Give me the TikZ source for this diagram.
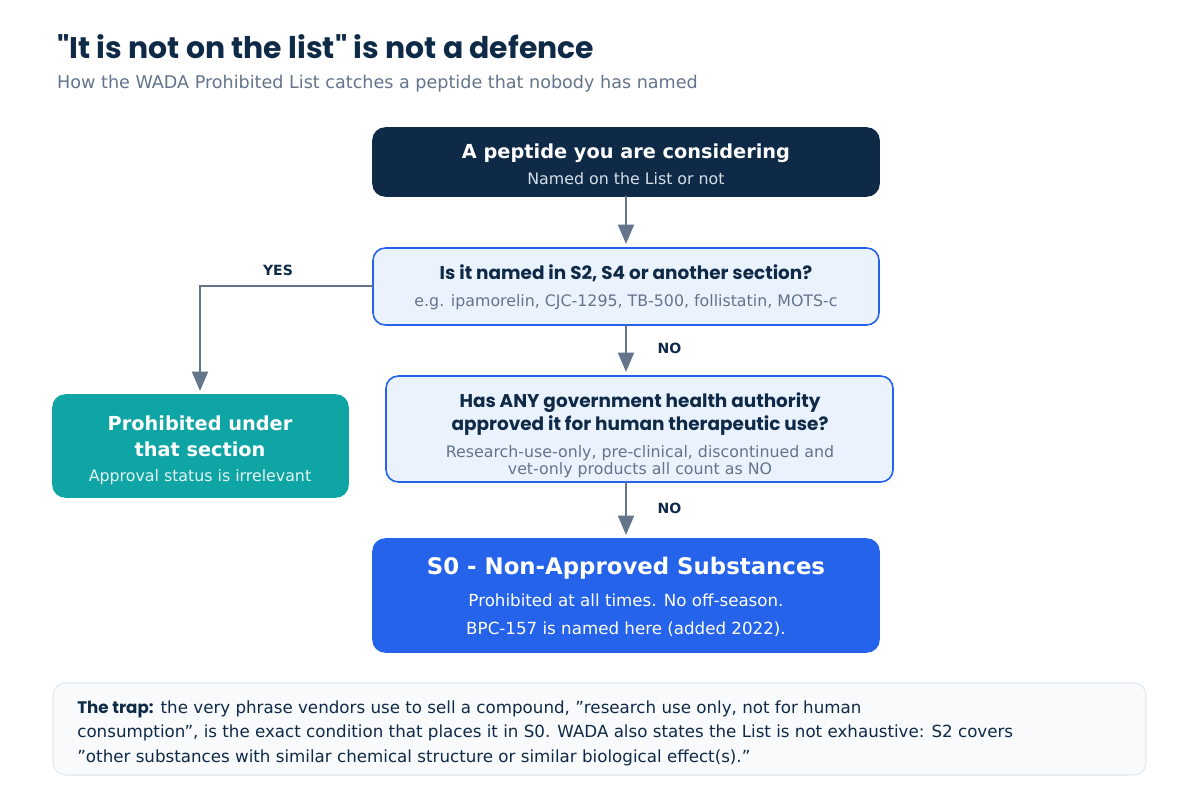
\documentclass[tikz,border=0pt]{standalone}
\usepackage{fontspec}
\setmainfont{DejaVu Sans}
\newfontfamily\popfont{Poppins}
\usetikzlibrary{arrows.meta}
\definecolor{navy}{HTML}{0F2A47}
\definecolor{slate}{HTML}{64748B}
\definecolor{bluefill}{HTML}{EAF2FD}
\definecolor{blueline}{HTML}{2563EB}
\definecolor{teal}{HTML}{10A5A5}
\definecolor{notefill}{HTML}{F8FAFC}
\definecolor{noteline}{HTML}{E2E8F0}
\definecolor{lightgray}{HTML}{D6DEE8}
\tikzset{
  box/.style={draw, rounded corners=7pt, line width=0.9pt},
  flow/.style={draw=slate, line width=1.3pt, -{Triangle[length=11pt,width=9pt]}},
  lab/.style={font=\bfseries\fontsize{8}{10}\selectfont, text=navy}
}
\begin{document}
\begin{tikzpicture}[x=0.02cm,y=-0.02cm]
    \useasboundingbox (0,0) rectangle (1200,800);

    % Title
    \node[anchor=west, text=navy, font=\popfont\bfseries\fontsize{17}{20}\selectfont] (title) at (51,47) {"It is not on the list" is not a defence};
    \node[anchor=west, text=slate, font=\fontsize{10}{12}\selectfont] (subtitle) at (51,84) {How the WADA Prohibited List catches a peptide that nobody has named};

    % Boxes
    \draw[box, draw=navy, fill=navy] (373,128) rectangle (879,196);
    \node[text=white, font=\bfseries\fontsize{11}{13}\selectfont] (start) at (626,153) {A peptide you are considering};
    \node[text=lightgray, font=\fontsize{9}{11}\selectfont] at (626,179) {Named on the List or not};

    \draw[box, draw=blueline, fill=bluefill] (373,248) rectangle (879,325);
    \node[text=navy, font=\popfont\bfseries\fontsize{10.5}{13}\selectfont] at (626,273) {Is it named in S2, S4 or another section?};
    \node[text=slate, font=\fontsize{9}{11}\selectfont] at (626,302) {e.g. ipamorelin, CJC-1295, TB-500, follistatin, MOTS-c};

    \draw[box, draw=blueline, fill=bluefill] (386,376) rectangle (893,482);
    \node[text=navy, font=\popfont\bfseries\fontsize{10.5}{13.5}\selectfont, align=center] at (640,414) {Has ANY government health authority\\approved it for human therapeutic use?};
    \node[text=slate, font=\fontsize{9}{9.7}\selectfont, align=center] at (640,462) {Research-use-only, pre-clinical, discontinued and\\vet-only products all count as NO};

    \draw[box, draw=blueline, fill=blueline] (373,539) rectangle (879,652);
    \node[text=white, font=\bfseries\fontsize{13}{15}\selectfont] at (626,568) {S0 - Non-Approved Substances};
    \node[text=white, font=\fontsize{9.5}{16}\selectfont, align=center] at (626,615) {Prohibited at all times. No off-season.\\BPC-157 is named here (added 2022).};

    \draw[box, draw=teal, fill=teal] (53,395) rectangle (348,497);
    \node[text=white, font=\bfseries\fontsize{11}{15}\selectfont, align=center] at (200,436) {Prohibited under\\that section};
    \node[text=white!88!teal, font=\fontsize{9}{11}\selectfont] at (200,477) {Approval status is irrelevant};

    % Helper points (imaginary)
    \coordinate (q1b) at (626,325);
    \coordinate (q2t) at (626,372);
    \coordinate (q2b) at (626,482);
    \coordinate (s0t) at (626,535);
    \coordinate (topb) at (626,196);
    \coordinate (q1t) at (626,244);
    \coordinate (q1w) at (373,286);
    \coordinate (sect) at (200,391);

    % Connectors
    \draw[flow] (topb) -- (q1t);
    \draw[flow] (q1b) -- (q2t) node[lab, midway, right=14pt] {NO};
    \draw[flow] (q2b) -- (s0t) node[lab, midway, right=14pt] {NO};
    \draw[flow] (q1w) -- (200,286) -- (sect);
    \node[lab] at (278,270) {YES};

    % Note
    \draw[box, line width=0.6pt, draw=noteline, fill=notefill] (53,683) rectangle (1146,775);
    \node[anchor=north west, text=navy, font=\fontsize{9.5}{14.2}\selectfont, align=left, inner sep=0] (note) at (77,700)
      {{\popfont\bfseries The trap:} the very phrase vendors use to sell a compound, "research use only, not for human\\
       consumption", is the exact condition that places it in S0. WADA also states the List is not exhaustive: S2 covers\\
       "other substances with similar chemical structure or similar biological effect(s)."};
\end{tikzpicture}
\end{document}
